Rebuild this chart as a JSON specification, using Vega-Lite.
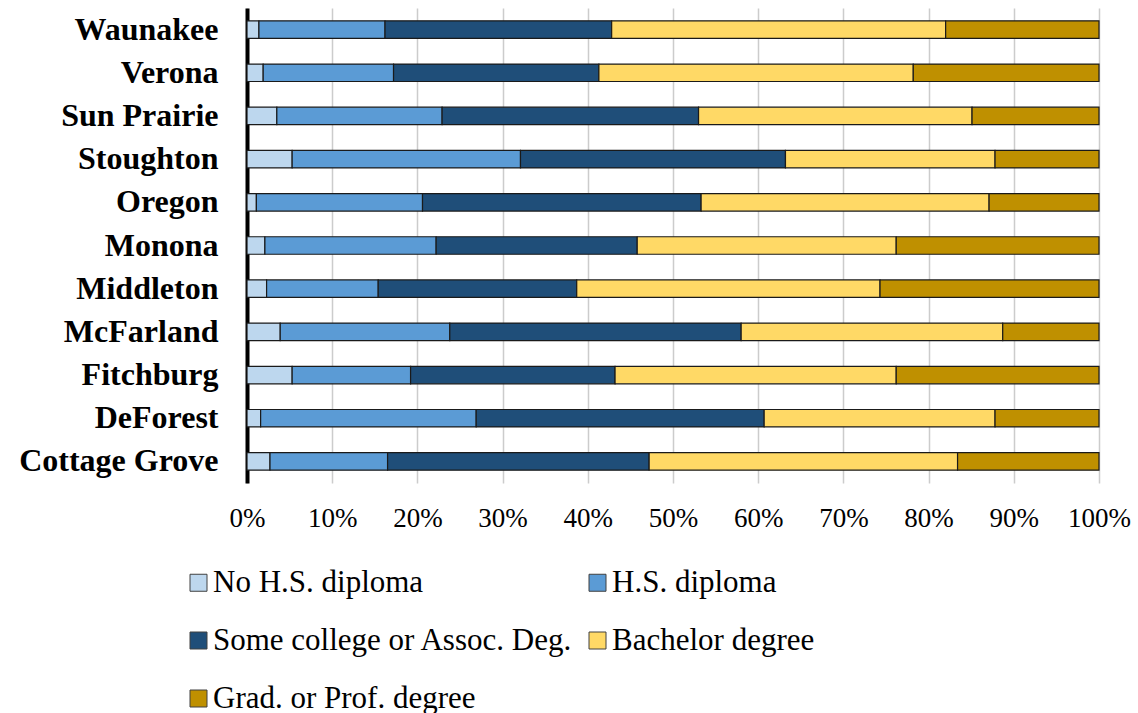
{
  "$schema": "https://vega.github.io/schema/vega-lite/v6.json",
  "autosize": {"type": "none"},
  "padding": {"left": 247, "top": 8, "right": 39, "bottom": 230},
  "width": 852,
  "height": 475,
  "background": "white",
  "config": {
    "font": "Liberation Serif",
    "view": {"stroke": null}
  },
  "data": {
    "values": [
      {"city": "Waunakee", "level": "No H.S. diploma", "pct": 1.4},
      {"city": "Waunakee", "level": "H.S. diploma", "pct": 14.8},
      {"city": "Waunakee", "level": "Some college or Assoc. Deg.", "pct": 26.6},
      {"city": "Waunakee", "level": "Bachelor degree", "pct": 39.2},
      {"city": "Waunakee", "level": "Grad. or Prof. degree", "pct": 18.0},
      {"city": "Verona", "level": "No H.S. diploma", "pct": 1.9},
      {"city": "Verona", "level": "H.S. diploma", "pct": 15.3},
      {"city": "Verona", "level": "Some college or Assoc. Deg.", "pct": 24.1},
      {"city": "Verona", "level": "Bachelor degree", "pct": 36.9},
      {"city": "Verona", "level": "Grad. or Prof. degree", "pct": 21.8},
      {"city": "Sun Prairie", "level": "No H.S. diploma", "pct": 3.5},
      {"city": "Sun Prairie", "level": "H.S. diploma", "pct": 19.4},
      {"city": "Sun Prairie", "level": "Some college or Assoc. Deg.", "pct": 30.1},
      {"city": "Sun Prairie", "level": "Bachelor degree", "pct": 32.1},
      {"city": "Sun Prairie", "level": "Grad. or Prof. degree", "pct": 14.9},
      {"city": "Stoughton", "level": "No H.S. diploma", "pct": 5.3},
      {"city": "Stoughton", "level": "H.S. diploma", "pct": 26.8},
      {"city": "Stoughton", "level": "Some college or Assoc. Deg.", "pct": 31.1},
      {"city": "Stoughton", "level": "Bachelor degree", "pct": 24.6},
      {"city": "Stoughton", "level": "Grad. or Prof. degree", "pct": 12.2},
      {"city": "Oregon", "level": "No H.S. diploma", "pct": 1.1},
      {"city": "Oregon", "level": "H.S. diploma", "pct": 19.5},
      {"city": "Oregon", "level": "Some college or Assoc. Deg.", "pct": 32.7},
      {"city": "Oregon", "level": "Bachelor degree", "pct": 33.8},
      {"city": "Oregon", "level": "Grad. or Prof. degree", "pct": 12.9},
      {"city": "Monona", "level": "No H.S. diploma", "pct": 2.1},
      {"city": "Monona", "level": "H.S. diploma", "pct": 20.1},
      {"city": "Monona", "level": "Some college or Assoc. Deg.", "pct": 23.6},
      {"city": "Monona", "level": "Bachelor degree", "pct": 30.4},
      {"city": "Monona", "level": "Grad. or Prof. degree", "pct": 23.8},
      {"city": "Middleton", "level": "No H.S. diploma", "pct": 2.3},
      {"city": "Middleton", "level": "H.S. diploma", "pct": 13.1},
      {"city": "Middleton", "level": "Some college or Assoc. Deg.", "pct": 23.3},
      {"city": "Middleton", "level": "Bachelor degree", "pct": 35.6},
      {"city": "Middleton", "level": "Grad. or Prof. degree", "pct": 25.7},
      {"city": "McFarland", "level": "No H.S. diploma", "pct": 3.9},
      {"city": "McFarland", "level": "H.S. diploma", "pct": 19.9},
      {"city": "McFarland", "level": "Some college or Assoc. Deg.", "pct": 34.2},
      {"city": "McFarland", "level": "Bachelor degree", "pct": 30.7},
      {"city": "McFarland", "level": "Grad. or Prof. degree", "pct": 11.3},
      {"city": "Fitchburg", "level": "No H.S. diploma", "pct": 5.3},
      {"city": "Fitchburg", "level": "H.S. diploma", "pct": 13.9},
      {"city": "Fitchburg", "level": "Some college or Assoc. Deg.", "pct": 24.0},
      {"city": "Fitchburg", "level": "Bachelor degree", "pct": 33.0},
      {"city": "Fitchburg", "level": "Grad. or Prof. degree", "pct": 23.8},
      {"city": "DeForest", "level": "No H.S. diploma", "pct": 1.6},
      {"city": "DeForest", "level": "H.S. diploma", "pct": 25.3},
      {"city": "DeForest", "level": "Some college or Assoc. Deg.", "pct": 33.8},
      {"city": "DeForest", "level": "Bachelor degree", "pct": 27.1},
      {"city": "DeForest", "level": "Grad. or Prof. degree", "pct": 12.2},
      {"city": "Cottage Grove\u00a0", "level": "No H.S. diploma", "pct": 2.7},
      {"city": "Cottage Grove\u00a0", "level": "H.S. diploma", "pct": 13.8},
      {"city": "Cottage Grove\u00a0", "level": "Some college or Assoc. Deg.", "pct": 30.7},
      {"city": "Cottage Grove\u00a0", "level": "Bachelor degree", "pct": 36.2},
      {"city": "Cottage Grove\u00a0", "level": "Grad. or Prof. degree", "pct": 16.6}
    ]
  },
  "transform": [
    {"calculate": "indexof(['No H.S. diploma', 'H.S. diploma', 'Some college or Assoc. Deg.', 'Bachelor degree', 'Grad. or Prof. degree'], datum.level)", "as": "rank"}
  ],
  "mark": {"type": "bar", "stroke": "#1a1a1a", "strokeWidth": 1.2},
  "encoding": {
    "y": {
      "field": "city",
      "type": "nominal",
      "sort": ["Waunakee", "Verona", "Sun Prairie", "Stoughton", "Oregon", "Monona", "Middleton", "McFarland", "Fitchburg", "DeForest", "Cottage Grove\u00a0"],
      "scale": {"paddingInner": 0.595, "paddingOuter": 0.2975},
      "axis": {
        "title": null,
        "ticks": false,
        "labelFont": "Liberation Serif",
        "labelFontSize": 32,
        "labelFontWeight": "bold",
        "labelColor": "#000000",
        "labelPadding": 29,
        "labelLimit": 400,
        "domain": true,
        "domainColor": "#000000",
        "domainWidth": 4,
        "grid": false
      }
    },
    "x": {
      "field": "pct",
      "type": "quantitative",
      "stack": "normalize",
      "scale": {"domain": [0, 1], "nice": false},
      "axis": {
        "title": null,
        "format": ".0%",
        "values": [0, 0.1, 0.2, 0.3, 0.4, 0.5, 0.6, 0.7, 0.8, 0.9, 1],
        "ticks": false,
        "domain": false,
        "grid": true,
        "gridColor": "#cccccc",
        "gridWidth": 1.5,
        "labelFont": "Liberation Serif",
        "labelFontSize": 27,
        "labelColor": "#000000",
        "labelPadding": 22,
        "labelFlush": false
      }
    },
    "order": {"field": "rank", "type": "quantitative", "sort": "ascending"},
    "color": {
      "field": "level",
      "type": "nominal",
      "sort": ["No H.S. diploma", "H.S. diploma", "Some college or Assoc. Deg.", "Bachelor degree", "Grad. or Prof. degree"],
      "scale": {
        "domain": ["No H.S. diploma", "H.S. diploma", "Some college or Assoc. Deg.", "Bachelor degree", "Grad. or Prof. degree"],
        "range": ["#BDD7EE", "#5B9BD5", "#1F4E79", "#FFD966", "#BF9000"]
      },
      "legend": {
        "title": null,
        "orient": "none",
        "legendX": -64,
        "legendY": 559,
        "direction": "horizontal",
        "columns": 2,
        "symbolType": "square",
        "symbolSize": 289,
        "symbolStrokeColor": "#404040",
        "symbolStrokeWidth": 1,
        "symbolOpacity": 1,
        "labelFont": "Liberation Serif",
        "labelFontSize": 31,
        "labelColor": "#000000",
        "labelOffset": -1,
        "labelLimit": 600,
        "columnPadding": 9,
        "rowPadding": 26
      }
    }
  }
}
